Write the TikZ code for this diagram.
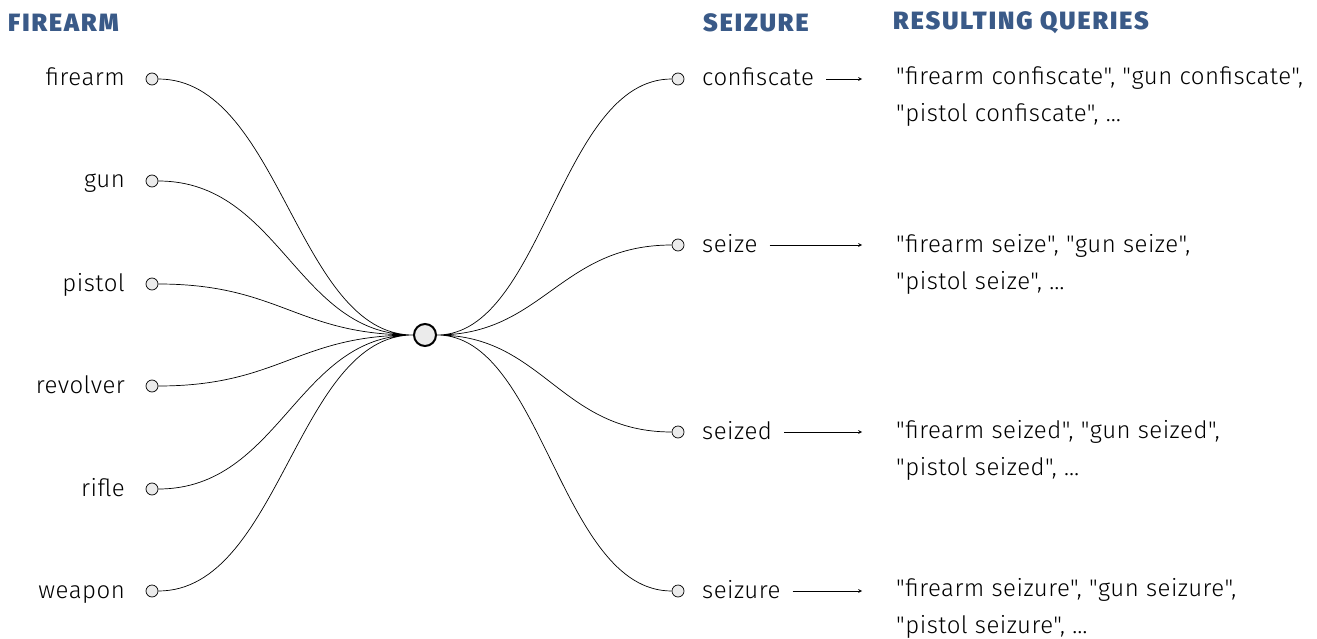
\documentclass[tikz,border=0pt]{standalone}
\usepackage{fontspec}
\setmainfont{Fira Sans Light}[Ligatures=TeXOff,LetterSpace=2]
\newfontfamily\headfont{Fira Sans Black}[LetterSpace=8]
\usepackage{tikz}
\usetikzlibrary{positioning}
\usetikzlibrary{arrows}
\definecolor{headblue}{HTML}{3A5A88}
\definecolor{dotgray}{HTML}{EBEBEB}

\begin{document}
\begin{tikzpicture}[x=1pt,y=-1pt,node distance=10pt,
   dot/.style={circle,draw,fill=dotgray,inner sep=0pt,minimum size=12pt,line width=0.7pt},
   hub/.style={circle,draw,fill=dotgray,inner sep=0pt,minimum size=22pt,line width=2pt},
   word/.style={font=\fontsize{24}{28}\selectfont,inner sep=0pt},
   head/.style={font=\fontsize{25}{29}\headfont,text=headblue,inner sep=0pt,anchor=west},
   query/.style={font=\fontsize{24}{37}\selectfont,inner sep=0pt,anchor=west,align=left}]
   \useasboundingbox (0,0) rectangle (1317,639);
   % headers
   \node[head] (h_firearm) at (8,23) {FIREARM};
   \node[head] (h_seizure) at (703,23) {SEIZURE};
   \node[head] (h_queries) at (893,23) {RESULTING QUERIES};
   % hub
   \node[hub] (hub) at (425,335) {};
   % firearm terms
   \node[dot] (d_firearm) at (152,79) {};
   \node[dot] (d_gun) at (152,181) {};
   \node[dot] (d_pistol) at (152,284) {};
   \node[dot] (d_revolver) at (152,386) {};
   \node[dot] (d_rifle) at (152,489) {};
   \node[dot] (d_weapon) at (152,591) {};
   \node[word,left=27pt of d_firearm.center,anchor=base east,yshift=-7pt] (firearm) {firearm};
   \node[word,left=27pt of d_gun.center,anchor=base east,yshift=-7pt] (gun) {gun};
   \node[word,left=27pt of d_pistol.center,anchor=base east,yshift=-7pt] (pistol) {pistol};
   \node[word,left=27pt of d_revolver.center,anchor=base east,yshift=-7pt] (revolver) {revolver};
   \node[word,left=27pt of d_rifle.center,anchor=base east,yshift=-7pt] (rifle) {rifle};
   \node[word,left=27pt of d_weapon.center,anchor=base east,yshift=-7pt] (weapon) {weapon};
   % seizure terms
   \node[dot] (d_confiscate) at (678,79) {};
   \node[dot] (d_seize) at (678,245) {};
   \node[dot] (d_seized) at (678,432) {};
   \node[dot] (d_seizure) at (678,591) {};
   \node[word,right=24pt of d_confiscate.center,anchor=base west,yshift=-7pt] (confiscate) {confiscate};
   \node[word,right=24pt of d_seize.center,anchor=base west,yshift=-7pt] (seize) {seize};
   \node[word,right=24pt of d_seized.center,anchor=base west,yshift=-7pt] (seized) {seized};
   \node[word,right=24pt of d_seizure.center,anchor=base west,yshift=-7pt] (seizure) {seizure};
   % queries
   \node[query] (q_confiscate) at (896,97) {"firearm confiscate", "gun confiscate",\\"pistol confiscate", …};
   \node[query] (q_seize) at (896,264) {"firearm seize", "gun seize",\\"pistol seize", …};
   \node[query] (q_seized) at (896,450) {"firearm seized", "gun seized",\\"pistol seized", …};
   \node[query] (q_seizure) at (896,608) {"firearm seizure", "gun seizure",\\"pistol seizure", …};
   \coordinate (a_confiscate) at (862,79);
   \coordinate (a_seize) at (862,245);
   \coordinate (a_seized) at (862,432);
   \coordinate (a_seizure) at (862,591);
   % links
   \path[draw,line width=0.7pt]
    (d_firearm) .. controls +(128,0) and +(-128,0) .. (hub)
    (d_gun) .. controls +(128,0) and +(-128,0) .. (hub)
    (d_pistol) .. controls +(128,0) and +(-128,0) .. (hub)
    (d_revolver) .. controls +(128,0) and +(-128,0) .. (hub)
    (d_rifle) .. controls +(128,0) and +(-128,0) .. (hub)
    (d_weapon) .. controls +(128,0) and +(-128,0) .. (hub)
    (hub) .. controls +(118,0) and +(-118,0) .. (d_confiscate)
    (hub) .. controls +(118,0) and +(-118,0) .. (d_seize)
    (hub) .. controls +(118,0) and +(-118,0) .. (d_seized)
    (hub) .. controls +(118,0) and +(-118,0) .. (d_seizure);
   \path[-stealth,line width=0.7pt,shorten <=12pt]
    (confiscate.east |- d_confiscate) edge (a_confiscate)
    (seize.east |- d_seize) edge (a_seize)
    (seized.east |- d_seized) edge (a_seized)
    (seizure.east |- d_seizure) edge (a_seizure);
\end{tikzpicture}
\end{document}
